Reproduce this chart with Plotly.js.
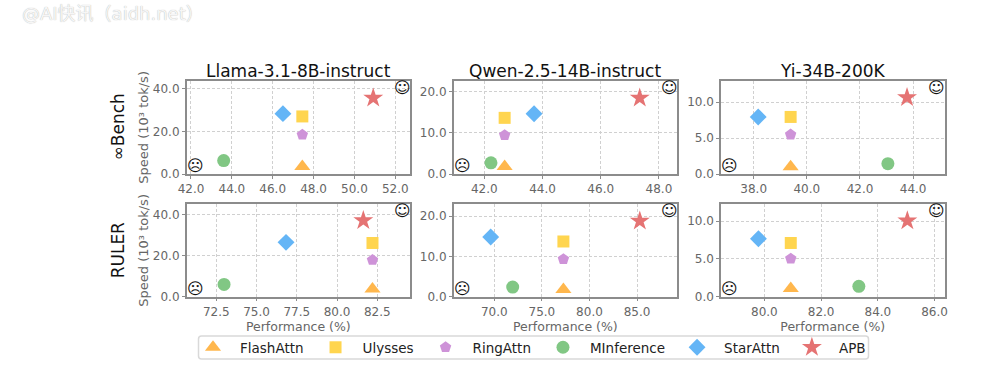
<!DOCTYPE html>
<html><head><meta charset="utf-8">
<script src="https://cdn.plot.ly/plotly-3.0.0.min.js"></script>
<style>html,body{margin:0;padding:0;background:#fff}</style></head>
<body><div id="chart" style="width:997px;height:375px"></div>
<script>
// panels: Inf-Llama, Inf-Qwen, Inf-Yi, RULER-Llama, RULER-Qwen, RULER-Yi
const modelTitles = ["Llama-3.1-8B-instruct","Qwen-2.5-14B-instruct","Yi-34B-200K"];
const rowLabels = ["∞Bench","RULER"];
const seriesNames = ["FlashAttn","Ulysses","RingAttn","MInference","StarAttn","APB"];
const flashPerf = [47.45,42.7,39.39,82.2,77.26,80.93];
const flashSpeed = [3.5,1.8,1.0,3.8,1.8,1.1];
const ulyssesPerf = [47.45,42.7,39.39,82.2,77.26,80.93];
const ulyssesSpeed = [27,13.6,7.95,26.2,13.7,7.1];
const ringPerf = [47.45,42.7,39.39,82.2,77.26,80.93];
const ringSpeed = [18.4,9.4,5.5,17.9,9.3,5.02];
const minfPerf = [43.6,42.23,43.05,72.98,71.93,83.33];
const minfSpeed = [6.3,2.7,1.44,6.0,2.4,1.37];
const starPerf = [46.5,43.71,38.17,76.83,69.62,79.79];
const starSpeed = [28.3,14.6,7.95,26.5,14.8,7.66];
const apbPerf = [50.92,47.34,43.77,81.63,85.29,85.04];
const apbSpeed = [35.6,18.4,10.65,37.1,18.8,10.04];
const xRanges = [[41.79,52.72],[40.95,48.62],[36.77,45.18],[70.66,84.53],[65.73,89.2],[78.47,86.35]];
const yRanges = [[0,43.76],[0,22.6],[0,13.0],[0,45.2],[0,23.0],[0,12.25]];
const xSteps = [2,2,2,2.5,5,2];
const ySteps = [20,10,5,20,10,5];

const allPerf = [flashPerf,ulyssesPerf,ringPerf,minfPerf,starPerf,apbPerf];
const allSpeed = [flashSpeed,ulyssesSpeed,ringSpeed,minfSpeed,starSpeed,apbSpeed];
const symbols = ["triangle-up","square","pentagon","circle","diamond","star"];
const sizes = [14,12,12,13,13,15];
const colors = ["#ffb74d","#ffd54f","#ce93d8","#81c784","#64b5f6","#e57373"];

const W=997,H=375;
const cols=[[186.7,410],[453.7,677],[721,944.5]];
const rows=[[80.7,174],[204,296.7]];
const grey="#666666", frame="#8c8c8c", grid="#d0d0d0";
const bx0=198.5,bx1=868.5,by0=336,by1=359,rad=3;
const layout={width:W,height:H,margin:{l:0,r:0,t:0,b:0},paper_bgcolor:"#fff",plot_bgcolor:"#fff",
  font:{family:"DejaVu Sans",color:grey},
  legend:{orientation:"h",x:186/W,y:1-332/H,xanchor:"left",yanchor:"top",bgcolor:"rgba(0,0,0,0)",borderwidth:0,
    font:{size:13.5,color:"#222",family:"DejaVu Sans"},itemsizing:"trace",itemwidth:44,itemclick:false},
  shapes:[{type:"path",xref:"paper",yref:"paper",layer:"above",line:{color:"#d9d9d9",width:1.5},fillcolor:"rgba(0,0,0,0)",
    path:`M ${(bx0+rad)/W} ${1-by0/H} L ${(bx1-rad)/W} ${1-by0/H} Q ${bx1/W} ${1-by0/H} ${bx1/W} ${1-(by0+rad)/H} L ${bx1/W} ${1-(by1-rad)/H} Q ${bx1/W} ${1-by1/H} ${(bx1-rad)/W} ${1-by1/H} L ${(bx0+rad)/W} ${1-by1/H} Q ${bx0/W} ${1-by1/H} ${bx0/W} ${1-(by1-rad)/H} L ${bx0/W} ${1-(by0+rad)/H} Q ${bx0/W} ${1-by0/H} ${(bx0+rad)/W} ${1-by0/H} Z`}],
  annotations:[{text:"@AI快讯（aidh.net）",xref:"paper",yref:"paper",x:20/W,y:1-14/H,xanchor:"left",yanchor:"middle",showarrow:false,
    font:{size:18,color:"#f6f6f6",family:"DejaVu Sans, Noto Sans CJK SC",shadow:"0 0 1px #aaaaaa"}}]};
const traces=[];
for(let p=0;p<6;p++){
  const c=p%3,r=Math.floor(p/3),id=p+1;
  const xa="xaxis"+(id===1?"":id),ya="yaxis"+(id===1?"":id);
  const xn="x"+(id===1?"":id),yn="y"+(id===1?"":id);
  layout[xa]={domain:[cols[c][0]/W,cols[c][1]/W],range:xRanges[p],anchor:yn,dtick:xSteps[p],tickformat:".1f",
    showline:true,mirror:true,linecolor:frame,linewidth:1.5,gridcolor:grid,griddash:"3px,2px",gridwidth:1,zeroline:false,
    ticks:"outside",ticklen:3,tickcolor:frame,tickfont:{size:12,color:grey}};
  layout[ya]={domain:[1-rows[r][1]/H,1-rows[r][0]/H],range:yRanges[p],anchor:xn,dtick:ySteps[p],tickformat:".1f",
    showline:true,mirror:true,linecolor:frame,linewidth:1.5,gridcolor:grid,griddash:"3px,2px",gridwidth:1,zeroline:false,
    ticks:"outside",ticklen:3,tickcolor:frame,tickfont:{size:12,color:grey}};
  if(r===1) layout[xa].title={text:"Performance (%)",font:{size:12.5,color:grey},standoff:0};
  if(c===0) layout[ya].title={text:"Speed (10³ tok/s)",font:{size:13,color:grey},standoff:1};
  if(r===0) layout.annotations.push({text:modelTitles[c],xref:xn+" domain",yref:yn+" domain",x:0.5,y:1,yshift:-2,xanchor:"center",yanchor:"bottom",showarrow:false,font:{size:17,color:"#111"}});
  if(c===0) layout.annotations.push({text:rowLabels[r],xref:"paper",yref:yn+" domain",x:118/W,y:0.5,xanchor:"center",yanchor:"middle",textangle:-90,showarrow:false,font:{size:17,color:"#111"}});
  layout.annotations.push({text:"☹",xref:xn+" domain",yref:yn+" domain",x:0.04,y:0.09,xanchor:"center",yanchor:"middle",showarrow:false,font:{size:16,color:"#111"}});
  layout.annotations.push({text:"☺",xref:xn+" domain",yref:yn+" domain",x:0.965,y:0.93,xanchor:"center",yanchor:"middle",showarrow:false,font:{size:16,color:"#111"}});
  seriesNames.forEach((n,s)=>{
    traces.push({type:"scatter",mode:"markers",name:n,legendgroup:n,showlegend:p===0,xaxis:xn,yaxis:yn,cliponaxis:false,
      x:[allPerf[s][p]],y:[allSpeed[s][p]],
      marker:{symbol:symbols[s],size:sizes[s],color:colors[s],line:{width:0}}});
  });
}
Plotly.newPlot("chart",traces,layout,{displayModeBar:false});
</script></body></html>
